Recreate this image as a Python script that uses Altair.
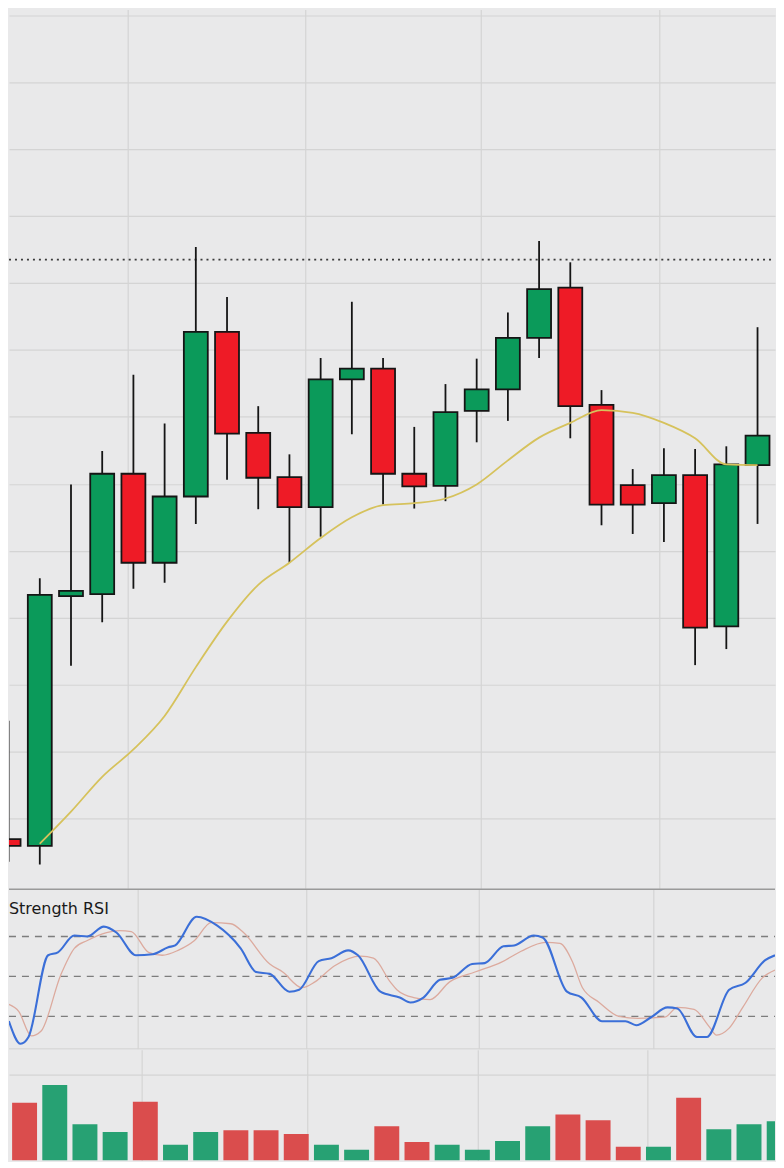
import altair as alt
import pandas as pd

# ---------------- data ----------------
bar_index = list(range(25))
opens  = [156.9, 155.9, 193.2, 193.5, 211.5, 198.2, 208.1, 232.7, 217.6, 211.0, 206.5, 225.6, 227.2,
          211.5, 209.7, 220.9, 224.1, 231.8, 239.3, 221.8, 209.8, 207.1, 211.3, 188.7, 212.8]
highs  = [174.6, 195.9, 209.9, 214.9, 226.3, 219.0, 245.4, 237.9, 221.6, 214.4, 228.8, 237.2, 228.8,
          218.5, 224.9, 228.7, 235.6, 246.3, 243.1, 224.0, 212.2, 215.3, 215.2, 215.6, 233.4]
lows   = [153.5, 153.1, 182.8, 189.3, 194.3, 195.2, 204.0, 210.6, 206.2, 198.2, 202.1, 217.4, 206.9,
          206.3, 207.4, 216.2, 219.4, 228.8, 216.8, 203.8, 202.5, 201.3, 182.9, 185.3, 204.0]
closes = [155.9, 193.4, 194.0, 211.5, 198.2, 208.1, 232.7, 217.5, 210.9, 206.5, 225.6, 227.2, 211.5,
          209.6, 220.7, 224.1, 231.8, 239.1, 221.6, 206.9, 206.9, 211.3, 188.5, 212.9, 217.2]
moving_avg = [None, 156.2, 161.0, 166.2, 170.3, 175.3, 182.6, 189.4, 194.9, 198.2, 201.9, 205.0, 206.8,
              207.1, 207.8, 209.9, 213.5, 216.9, 219.1, 221.0, 220.6, 219.1, 216.8, 212.9, 212.8]
resistance = [243.5]

rsi_t = [0.17, 0.54, 0.79, 1.41, 1.72, 2.24, 2.65, 3.17, 3.57, 4.19, 4.72, 5.21, 5.43, 6.11, 6.76,
         7.50, 7.99, 8.42, 9.04, 9.35, 9.97, 10.37, 10.90, 11.21, 11.92, 12.53, 12.87, 13.28, 13.80,
         14.20, 14.82, 15.22, 15.81, 16.15, 16.77, 17.05, 17.82, 18.28, 18.93, 19.67, 20.01, 20.48,
         21.00, 21.31, 21.93, 22.24, 22.95, 23.47, 24.09, 24.40]
rsi_v = [16.3, -0.7, 4.4, 65.9, 68.1, 80.7, 80.0, 87.4, 83.0, 65.9, 66.7, 71.9, 73.3, 94.8, 88.1,
         71.1, 53.3, 51.9, 38.5, 40.0, 61.5, 63.7, 69.6, 65.9, 38.5, 34.1, 30.4, 34.1, 47.4,
         48.9, 59.3, 60.0, 72.6, 73.3, 80.7, 79.3, 38.5, 34.1, 16.3, 16.3, 13.3, 19.3,
         26.7, 25.9, 4.4, 4.4, 40.0, 45.2, 62.2, 65.9]
sig_t = [0.17, 0.48, 0.88, 1.19, 1.81, 2.24, 2.65, 3.26, 3.67, 4.04, 4.59, 5.02, 5.52, 6.04, 6.57,
         7.19, 7.59, 8.42, 8.83, 9.44, 9.85, 10.46, 11.30, 11.70, 12.23, 12.44, 12.97, 13.49, 14.11,
         14.91, 15.75, 16.37, 17.14, 17.60, 18.00, 18.31, 18.84, 19.46, 20.07, 20.91, 21.31, 21.84,
         22.33, 22.55, 22.95, 23.38, 24.00, 24.40]
sig_v = [28.9, 23.7, 5.2, 8.9, 51.1, 71.1, 77.0, 83.0, 84.4, 83.7, 68.1, 65.9, 69.6, 77.0, 90.4,
         89.6, 83.0, 59.3, 53.3, 41.5, 45.9, 57.8, 65.2, 63.7, 45.9, 40.0, 34.1, 32.6, 45.9,
         53.3, 60.7, 68.9, 75.6, 74.8, 60.7, 41.5, 30.4, 20.0, 18.5, 19.3, 26.7, 25.2,
         11.9, 5.9, 11.1, 26.7, 48.9, 54.8]
rsi_levels = [80, 50, 20]

vol_index = list(range(26))
volume = [1475, 1925, 925, 725, 1500, 400, 725, 775, 775, 675, 400, 275, 875,
          475, 400, 275, 500, 875, 1175, 1025, 350, 350, 1600, 800, 925, 1000]
vol_dir = ["down", "up", "up", "up", "down", "up", "up", "down", "down", "down", "up", "up", "down",
           "down", "up", "up", "up", "up", "down", "down", "down", "up", "down", "up", "up", "up"]

# ---------------- style ----------------
W = 768
H_MAIN, H_RSI, H_VOL = 881, 160, 111
BG = "#e9e9ea"
GRID = "#d4d4d4"
GREEN, RED = "#0b9a5a", "#ee1b26"
VGREEN, VRED = "#27a173", "#da4d4d"
INK = "#151515"


def hidden_axis(vals=None, grid=True):
    kw = dict(grid=grid, labels=False, ticks=False, domain=False, title=None)
    if vals is not None:
        kw["values"] = vals
    return alt.Axis(**kw)


candles = pd.DataFrame({"t": bar_index, "open": opens, "high": highs, "low": lows,
                        "close": closes, "ma": moving_avg})
candles["dir"] = ["up" if c > o else "down" for o, c in zip(opens, closes)]

x_main = alt.X("t:Q", scale=alt.Scale(domain=[0.173, 24.40], nice=False, zero=False),
               axis=hidden_axis([3.82, 9.51, 15.13, 20.85]))
y_scale = alt.Scale(domain=[149.56, 280.88], nice=False, zero=False)
y_axis = hidden_axis(list(range(160, 290, 10)))

base = alt.Chart(candles).encode(x=x_main)
wicks = base.mark_rule(color=INK, strokeWidth=1.8, clip=True).encode(
    y=alt.Y("low:Q", scale=y_scale, axis=y_axis), y2="high:Q")
bodies = base.mark_bar(size=24, stroke=INK, strokeWidth=1.8, clip=True).encode(
    y=alt.Y("open:Q", scale=y_scale, axis=y_axis), y2="close:Q",
    color=alt.Color("dir:N", scale=alt.Scale(domain=["up", "down"], range=[GREEN, RED]), legend=None))
ma_line = base.mark_line(color="#d6c25c", strokeWidth=1.8, interpolate="monotone", clip=True).encode(
    y=alt.Y("ma:Q", scale=y_scale, axis=y_axis))
res_line = alt.Chart(pd.DataFrame({"level": resistance})).mark_rule(
    color="#3a3a3a", strokeWidth=1.8, strokeDash=[2, 4]).encode(
    y=alt.Y("level:Q", scale=y_scale, axis=y_axis), x=alt.value(0), x2=alt.value(W))

main = alt.layer(res_line, wicks, bodies, ma_line).properties(width=W, height=H_MAIN)

# ---------------- RSI ----------------
x_rsi_scale = alt.Scale(domain=[0.173, 24.40], nice=False, zero=False)
x_rsi_axis = hidden_axis([4.25, 9.57, 15.04, 20.54])
y_rsi_scale = alt.Scale(domain=[-4.44, 115.56], nice=False, zero=False)

lvl = alt.Chart(pd.DataFrame({"v": rsi_levels})).mark_rule(
    color="#7d7d7d", strokeWidth=1.3, strokeDash=[7, 6]).encode(
    y=alt.Y("v:Q", scale=y_rsi_scale, axis=None), x=alt.value(0), x2=alt.value(W))
sig = alt.Chart(pd.DataFrame({"t": sig_t, "v": sig_v})).mark_line(
    color="#dcaa9e", strokeWidth=1.3, interpolate="monotone", clip=True).encode(
    x=alt.X("t:Q", scale=x_rsi_scale, axis=x_rsi_axis),
    y=alt.Y("v:Q", scale=y_rsi_scale, axis=None))
rsi = alt.Chart(pd.DataFrame({"t": rsi_t, "v": rsi_v})).mark_line(
    color="#3b6fd8", strokeWidth=2.1, interpolate="monotone", clip=True).encode(
    x=alt.X("t:Q", scale=x_rsi_scale, axis=x_rsi_axis),
    y=alt.Y("v:Q", scale=y_rsi_scale, axis=None))
label = alt.Chart(pd.DataFrame({"name": ["Strength RSI"]})).mark_text(
    font="DejaVu Sans", fontSize=16, color="#1a1a1a", align="left", baseline="alphabetic").encode(
    text="name:N", x=alt.value(0), y=alt.value(24.5))
top_div = alt.Chart(pd.DataFrame({"k": [0]})).mark_rule(color="#9a9a9a", strokeWidth=1.6).encode(
    x=alt.value(0), x2=alt.value(W), y=alt.value(0))
bot_div = alt.Chart(pd.DataFrame({"k": [0]})).mark_rule(color=GRID, strokeWidth=1.2).encode(
    x=alt.value(0), x2=alt.value(W), y=alt.value(H_RSI))

rsi_panel = alt.layer(lvl, sig, rsi, label, top_div, bot_div).properties(width=W, height=H_RSI)

# ---------------- volume ----------------
vol_df = pd.DataFrame({"t": vol_index, "vol": volume, "dir": vol_dir})
vol_panel = alt.Chart(vol_df).mark_bar(size=25, clip=True).encode(
    x=alt.X("t:Q", scale=alt.Scale(domain=[-0.351, 24.696], nice=False, zero=False),
            axis=hidden_axis([3.87, 9.36, 15.02, 20.64])),
    y=alt.Y("vol:Q", scale=alt.Scale(domain=[0, 2825], nice=False), axis=hidden_axis([2200])),
    color=alt.Color("dir:N", scale=alt.Scale(domain=["up", "down"], range=[VGREEN, VRED]), legend=None),
).properties(width=W, height=H_VOL)

chart = alt.vconcat(main, rsi_panel, vol_panel, spacing=0).resolve_scale(
    x="independent", y="independent", color="independent"
).properties(padding=0, background=BG).configure_view(
    stroke=None, fill=BG
).configure_axis(gridColor=GRID, gridWidth=1.2)

chart.save("out.html", embed_options={"renderer": "svg", "actions": False})
